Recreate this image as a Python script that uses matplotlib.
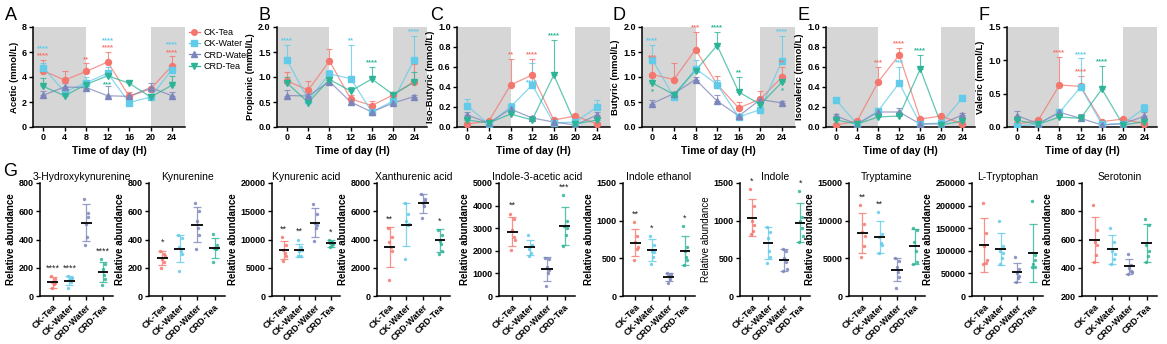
import numpy as np
import matplotlib
matplotlib.use("Agg")
import matplotlib.pyplot as plt
from matplotlib.lines import Line2D

plt.rcParams['font.family'] = ['Liberation Sans', 'DejaVu Sans']
plt.rcParams['font.weight'] = 'bold'
plt.rcParams['axes.labelweight'] = 'bold'

W, H = 1167, 344

groups = ["CK-Tea", "CK-Water", "CRD-Water", "CRD-Tea"]
colors = {"CK-Tea": "#F4776E", "CK-Water": "#62CBEA",
          "CRD-Water": "#7C86BA", "CRD-Tea": "#2DB497"}
markers = {"CK-Tea": "o", "CK-Water": "s", "CRD-Water": "^", "CRD-Tea": "v"}

hours = [0, 4, 8, 12, 16, 20, 24]

# ---- SCFA time courses (mean, SD) ----
acetic = {"CK-Tea": [4.5, 3.75, 4.45, 5.2, 2.45, 3.05, 4.9],
          "CK-Water": [4.75, 2.8, 3.55, 4.3, 1.95, 2.4, 4.6],
          "CRD-Water": [2.55, 3.2, 3.15, 2.5, 2.45, 3.15, 2.5],
          "CRD-Tea": [3.25, 2.5, 3.4, 4.1, 3.5, 2.4, 3.35]}
acetic_sd = {"CK-Tea": [0.85, 0.75, 0.65, 0.8, 0.35, 0.15, 0.75],
             "CK-Water": [0.35, 0.2, 0.45, 0.5, 0.15, 0.2, 0.4],
             "CRD-Water": [0.35, 0.3, 0.15, 0.8, 0.15, 0.4, 0.3],
             "CRD-Tea": [0.7, 0.1, 0.4, 0.1, 0.2, 0.1, 0.7]}
acetic_stars = [(0, "CK-Tea", "****"), (0, "CK-Water", "****"), (8, "CK-Tea", "**"),
                (12, "CK-Tea", "****"), (12, "CK-Water", "****"), (12, "CRD-Tea", "***", "below"),
                (24, "CK-Tea", "****"), (24, "CK-Water", "****")]

propionic = {"CK-Tea": [0.92, 0.74, 1.32, 0.56, 0.43, 0.64, 0.91],
             "CK-Water": [1.34, 0.54, 1.06, 0.97, 0.30, 0.52, 1.35],
             "CRD-Water": [0.63, 0.62, 0.91, 0.50, 0.30, 0.48, 0.61],
             "CRD-Tea": [0.88, 0.49, 0.95, 0.72, 0.96, 0.65, 0.90]}
propionic_sd = {"CK-Tea": [0.18, 0.18, 0.25, 0.09, 0.1, 0.06, 0.36],
                "CK-Water": [0.31, 0.06, 0.09, 0.68, 0.03, 0.03, 0.48],
                "CRD-Water": [0.12, 0.04, 0.04, 0.05, 0.02, 0.02, 0.04],
                "CRD-Tea": [0.12, 0.03, 0.1, 0.08, 0.24, 0.04, 0.2]}
propionic_stars = [(0, "CK-Water", "****"), (12, "CK-Water", "**"),
                   (16, "CRD-Tea", "****"), (24, "CK-Water", "****")]

isobutyric = {"CK-Tea": [0.03, 0.06, 0.42, 0.52, 0.07, 0.11, 0.03],
              "CK-Water": [0.21, 0.03, 0.20, 0.42, 0.04, 0.05, 0.20],
              "CRD-Water": [0.12, 0.04, 0.18, 0.09, 0.05, 0.02, 0.12],
              "CRD-Tea": [0.07, 0.04, 0.13, 0.07, 0.52, 0.03, 0.07]}
isobutyric_sd = {"CK-Tea": [0.01, 0.01, 0.26, 0.16, 0.02, 0.02, 0.01],
                 "CK-Water": [0.07, 0.01, 0.04, 0.22, 0.01, 0.01, 0.07],
                 "CRD-Water": [0.03, 0.01, 0.04, 0.02, 0.01, 0.01, 0.03],
                 "CRD-Tea": [0.01, 0.01, 0.02, 0.01, 0.35, 0.01, 0.02]}
isobutyric_stars = [(8, "CK-Tea", "**"), (12, "CK-Tea", "****"),
                    (12, "CK-Water", "****", "point"), (16, "CRD-Tea", "****")]

butyric = {"CK-Tea": [1.05, 0.95, 1.55, 0.85, 0.38, 0.56, 1.0],
           "CK-Water": [1.35, 0.60, 1.17, 0.85, 0.20, 0.35, 1.33],
           "CRD-Water": [0.47, 0.67, 0.95, 0.52, 0.22, 0.55, 0.48],
           "CRD-Tea": [0.88, 0.65, 1.13, 1.63, 0.70, 0.45, 0.90]}
butyric_sd = {"CK-Tea": [0.25, 0.33, 0.35, 0.17, 0.12, 0.16, 0.2],
              "CK-Water": [0.3, 0.05, 0.18, 0.1, 0.03, 0.05, 0.5],
              "CRD-Water": [0.08, 0.04, 0.05, 0.13, 0.03, 0.05, 0.05],
              "CRD-Tea": [0.12, 0.04, 0.08, 0.27, 0.3, 0.05, 0.15]}
butyric_stars = [(0, "CK-Tea", "***"), (0, "CK-Water", "****"), (0, "CRD-Tea", "*", "below"),
                 (8, "CK-Tea", "***"), (12, "CRD-Tea", "****"), (16, "CRD-Tea", "**"),
                 (24, "CK-Tea", "**"), (24, "CK-Water", "****"), (24, "CRD-Tea", "*", "below")]

isovaleric = {"CK-Tea": [0.02, 0.06, 0.45, 0.72, 0.08, 0.11, 0.03],
              "CK-Water": [0.27, 0.03, 0.16, 0.44, 0.03, 0.04, 0.29],
              "CRD-Water": [0.11, 0.03, 0.15, 0.15, 0.03, 0.03, 0.12],
              "CRD-Tea": [0.07, 0.03, 0.10, 0.11, 0.58, 0.02, 0.06]}
isovaleric_sd = {"CK-Tea": [0.01, 0.01, 0.15, 0.07, 0.01, 0.01, 0.01],
                 "CK-Water": [0.02, 0.01, 0.03, 0.16, 0.01, 0.01, 0.03],
                 "CRD-Water": [0.02, 0.01, 0.02, 0.04, 0.01, 0.01, 0.02],
                 "CRD-Tea": [0.01, 0.01, 0.02, 0.02, 0.14, 0.01, 0.01]}
isovaleric_stars = [(8, "CK-Tea", "***"), (12, "CK-Water", "***"),
                    (12, "CK-Tea", "****"), (16, "CRD-Tea", "****")]

valeric = {"CK-Tea": [0.04, 0.10, 0.63, 0.61, 0.08, 0.12, 0.05],
           "CK-Water": [0.01, 0.05, 0.22, 0.60, 0.04, 0.05, 0.28],
           "CRD-Water": [0.17, 0.05, 0.22, 0.13, 0.03, 0.05, 0.16],
           "CRD-Tea": [0.10, 0.04, 0.15, 0.13, 0.57, 0.03, 0.08]}
valeric_sd = {"CK-Tea": [0.01, 0.01, 0.42, 0.16, 0.01, 0.01, 0.01],
              "CK-Water": [0.01, 0.01, 0.04, 0.43, 0.01, 0.01, 0.07],
              "CRD-Water": [0.07, 0.01, 0.05, 0.07, 0.01, 0.01, 0.06],
              "CRD-Tea": [0.01, 0.01, 0.02, 0.02, 0.35, 0.01, 0.01]}
valeric_stars = [(8, "CK-Tea", "****"), (12, "CK-Tea", "****"),
                 (12, "CK-Water", "****"), (16, "CRD-Tea", "****")]

# ---- tryptophan metabolites (individual values, mean, SD) ----
hk3_pts = [[140, 120, 100, 85, 60, 95], [140, 125, 110, 100, 55, 130],
           [690, 560, 510, 420, 360, 590], [260, 230, 190, 150, 80, 120]]
hk3_mean = [97, 108, 520, 170]
hk3_sd = [38, 33, 130, 72]
hk3_stars = ["****", "****", "", "****"]

kyn_pts = [[320, 300, 260, 240, 200, 280], [430, 410, 350, 320, 180, 300],
           [655, 600, 530, 480, 330, 430], [440, 340, 340, 330, 240, 360]]
kyn_mean = [270, 335, 505, 340]
kyn_sd = [52, 97, 125, 72]
kyn_stars = ["*", "", "", ""]

kyna_pts = [[10400, 9000, 8200, 7600, 6200, 7000], [10000, 8600, 8000, 7000, 7000, 8200],
            [16300, 14500, 13000, 12000, 9700, 12500], [9900, 9500, 9300, 9100, 8700, 9200]]
kyna_mean = [8100, 8100, 13000, 9300]
kyna_sd = [1600, 1150, 2600, 600]
kyna_stars = ["**", "**", "", "*"]

xa_pts = [[4800, 4200, 3800, 3500, 1150, 3200], [6550, 5800, 5300, 5000, 2650, 5100],
          [7200, 6900, 6600, 6400, 5500, 6700], [4700, 4300, 3900, 3700, 3000, 3200]]
xa_mean = [3450, 5050, 6550, 3950]
xa_sd = [1400, 1500, 650, 800]
xa_stars = ["**", "", "", "*"]

iaa_pts = [[3650, 3400, 2900, 2600, 2050, 2500], [2700, 2250, 2100, 1900, 1750, 2200],
           [1700, 1650, 1300, 1000, 450, 1150], [4450, 3300, 3100, 2700, 2200, 3000]]
iaa_mean = [2850, 2150, 1200, 3100]
iaa_sd = [650, 350, 520, 830]
iaa_stars = ["**", "", "", "***"]

ie_pts = [[980, 800, 720, 620, 480, 650], [800, 680, 600, 520, 430, 580],
          [310, 290, 260, 230, 170, 270], [930, 650, 600, 520, 410, 480]]
ie_mean = [710, 610, 255, 600]
ie_sd = [185, 150, 55, 190]
ie_stars = ["**", "*", "", "*"]

indole_pts = [[1420, 1200, 1000, 860, 820, 940], [910, 850, 770, 600, 440, 520],
              [630, 600, 500, 450, 330, 360], [1390, 1050, 1000, 900, 720, 800]]
indole_mean = [1040, 700, 475, 975]
indole_sd = [250, 210, 145, 255]
indole_stars = ["*", "", "", "*"]

trypt_pts = [[12100, 9500, 8500, 6600, 5200, 8000], [11200, 8200, 7800, 7000, 5700, 6800],
             [5000, 4600, 3900, 3200, 1100, 2500], [9000, 8800, 7200, 6000, 4200, 4500]]
trypt_mean = [8400, 7800, 3500, 6600]
trypt_sd = [2650, 2100, 1500, 2300]
trypt_stars = ["**", "**", "", ""]

trp_pts = [[205000, 140000, 110000, 72000, 70000, 80000],
           [167000, 110000, 100000, 85000, 70000, 95000],
           [86000, 60000, 50000, 40000, 32000, 45000],
           [210000, 90000, 70000, 65000, 64000, 80000]]
trp_mean = [113000, 104000, 52000, 96000]
trp_sd = [60000, 36000, 21000, 64000]
trp_stars = ["", "", "", ""]

ser_pts = [[845, 670, 580, 490, 440, 560], [680, 580, 520, 460, 430, 500],
           [495, 420, 400, 380, 355, 370], [745, 700, 560, 480, 440, 520]]
ser_mean = [600, 530, 410, 575]
ser_sd = [160, 100, 55, 135]
ser_stars = ["", "", "", ""]


fig = plt.figure(figsize=(W / 100, H / 100), dpi=100)


def add_ax(left, right, top, bottom):
    return fig.add_axes([left / W, 1 - bottom / H, (right - left) / W, (bottom - top) / H])


def style_axes(ax):
    for s in ("top", "right"):
        ax.spines[s].set_visible(False)
    for s in ("left", "bottom"):
        ax.spines[s].set_linewidth(1.1)
    ax.tick_params(direction="out", length=3, width=1, labelsize=6.5, pad=1.5)


# -----------------------------
# SCFA panels A-F
# -----------------------------
top_panels = [
    ("A", "Acetic (mmol/L)", acetic, acetic_sd, acetic_stars, 8, [0, 2, 4, 6, 8], "{:.0f}", 33, 185, 5),
    ("B", "Propionic (mmol/L)", propionic, propionic_sd, propionic_stars, 2.0,
     [0, 0.5, 1.0, 1.5, 2.0], "{:.1f}", 277, 427, 258),
    ("C", "Iso-Butyric (mmol/L)", isobutyric, isobutyric_sd, isobutyric_stars, 1.0,
     [0, 0.2, 0.4, 0.6, 0.8, 1.0], "{:.1f}", 457, 610, 430),
    ("D", "Butyric (mmol/L)", butyric, butyric_sd, butyric_stars, 2.0,
     [0, 0.5, 1.0, 1.5, 2.0], "{:.1f}", 642, 795, 613),
    ("E", "Isovaleric (mmol/L)", isovaleric, isovaleric_sd, isovaleric_stars, 1.0,
     [0, 0.2, 0.4, 0.6, 0.8, 1.0], "{:.1f}", 826, 975, 797),
    ("F", "Valeric (mmol/L)", valeric, valeric_sd, valeric_stars, 1.5,
     [0, 0.5, 1.0, 1.5], "{:.1f}", 1007, 1157, 979),
]

xlo, xhi = -1.9, 26.4
for letter, ylab, means, sds, stars, ymax, yt, fmt, left, right, letter_x in top_panels:
    ax = add_ax(left, right, 27, 127)
    style_axes(ax)
    ax.axvspan(xlo, 8, color="#D6D6D6", lw=0, zorder=0)
    ax.axvspan(20, xhi, color="#D6D6D6", lw=0, zorder=0)
    for g in groups:
        m = np.array(means[g])
        sd = np.array(sds[g])
        c = colors[g]
        ax.errorbar(hours, m, yerr=[np.zeros_like(sd), sd], fmt="none", ecolor=c,
                    elinewidth=0.8, capsize=2, capthick=0.8, alpha=0.8, zorder=2)
        ax.plot(hours, m, color=c, lw=0.9, alpha=0.75, zorder=2)
        ax.plot(hours, m, ls="none", marker=markers[g], ms=4.3, color=c, zorder=3)

    # significance marks, stacked when several share a time point
    pad = 0.04 * ymax
    step = 0.075 * ymax
    last = {}
    for entry in stars:
        t, g, txt = entry[:3]
        mode = entry[3] if len(entry) > 3 else "above"
        i = hours.index(t)
        m = means[g][i]
        if mode == "below":
            y = m - 0.09 * ymax
        elif mode == "point":
            y = m + pad * 0.6
        else:
            y = m + sds[g][i] + pad
            if t in last and y < last[t] + step:
                y = last[t] + step
            last[t] = y
        ax.text(t, y, txt, color=colors[g], fontsize=5.5, ha="center", va="center")

    ax.set_xlim(xlo, xhi)
    ax.set_ylim(0, ymax)
    ax.set_xticks(hours)
    ax.set_yticks(yt)
    ax.set_yticklabels([fmt.format(v) for v in yt])
    ax.set_xlabel("Time of day (H)", fontsize=7.5, labelpad=3)
    ax.set_ylabel(ylab, fontsize=6.8, labelpad=2)
    fig.text(letter_x / W, 1 - 20 / H, letter, fontsize=13, fontweight="normal",
             ha="left", va="baseline")

handles = [Line2D([], [], color=colors[g], marker=markers[g], ms=4, lw=0.9) for g in groups]
fig.legend(handles, groups, loc="upper left", bbox_to_anchor=(189 / W, 1 - 28 / H),
           frameon=False, prop={"size": 6.5, "weight": "normal"}, handlelength=1.2,
           handletextpad=0.4, labelspacing=0.25, borderaxespad=0, borderpad=0)

# -----------------------------
# Tryptophan metabolite panels G
# -----------------------------
bottom_panels = [
    ("3-Hydroxykynurenine", hk3_pts, hk3_mean, hk3_sd, hk3_stars, (0, 800), range(0, 801, 200), 40, 113),
    ("Kynurenine", kyn_pts, kyn_mean, kyn_sd, kyn_stars, (0, 800), range(0, 801, 200), 149, 225),
    ("Kynurenic acid", kyna_pts, kyna_mean, kyna_sd, kyna_stars, (0, 20000), range(0, 20001, 5000), 272, 340),
    ("Xanthurenic acid", xa_pts, xa_mean, xa_sd, xa_stars, (0, 8000), range(0, 8001, 2000), 377, 450),
    ("Indole-3-acetic acid", iaa_pts, iaa_mean, iaa_sd, iaa_stars, (0, 5000), range(0, 5001, 1000), 499, 575),
    ("Indole ethanol", ie_pts, ie_mean, ie_sd, ie_stars, (0, 1500), range(0, 1501, 500), 623, 695),
    ("Indole", indole_pts, indole_mean, indole_sd, indole_stars, (0, 1500), range(0, 1501, 500), 740, 810),
    ("Tryptamine", trypt_pts, trypt_mean, trypt_sd, trypt_stars, (0, 15000), range(0, 15001, 5000), 849, 925),
    ("L-Tryptophan", trp_pts, trp_mean, trp_sd, trp_stars, (0, 250000), range(0, 250001, 50000), 972, 1043),
    ("Serotonin", ser_pts, ser_mean, ser_sd, ser_stars, (200, 1000), range(200, 1001, 200), 1082, 1157),
]

jitter = np.array([-0.1, 0.12, -0.02, 0.08, -0.06, 0.14])
for title, pts, means, sds, stars, ylim, yt, left, right in bottom_panels:
    ax = add_ax(left, right, 183, 296)
    style_axes(ax)
    rng = ylim[1] - ylim[0]
    for i, g in enumerate(groups):
        c = colors[g]
        ax.scatter(i + jitter, pts[i], s=6, color=c, alpha=0.85, lw=0, zorder=3)
        ax.errorbar(i, means[i], yerr=sds[i], fmt="none", ecolor=c, elinewidth=0.9,
                    capsize=3, capthick=0.9, alpha=0.8, zorder=2)
        ax.hlines(means[i], i - 0.32, i + 0.32, color="#111111", lw=1.4, zorder=4)
        if stars[i]:
            y = max(max(pts[i]), means[i] + sds[i]) + 0.03 * rng
            ax.text(i, y, stars[i], color="#222222", fontsize=6.5, fontweight="normal",
                    ha="center", va="bottom")
    ax.set_xlim(-0.75, 3.6)
    ax.set_ylim(*ylim)
    ax.set_yticks(list(yt))
    ax.set_yticklabels([str(v) for v in yt])
    ax.set_xticks(range(4))
    ax.set_xticklabels(groups, rotation=45, ha="right", rotation_mode="anchor", fontsize=6.5)
    # long title sits over the category centres
    ax.set_title(title, fontsize=7.5, fontweight="normal", pad=2,
                 x=0.58 if title == "3-Hydroxykynurenine" else 0.5)
    ax.set_ylabel("Relative abundance", fontsize=7, labelpad=2,
                  fontweight="normal" if title == "Indole" else "bold")

fig.text(3 / W, 1 - 176 / H, "G", fontsize=13, fontweight="normal", ha="left", va="baseline")

fig.savefig("out.png", dpi=100)
